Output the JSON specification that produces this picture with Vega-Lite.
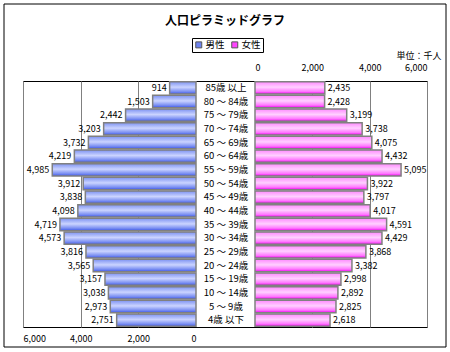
{
  "$schema": "https://vega.github.io/schema/vega-lite/v6.json",
  "autosize": {"type": "none"},
  "padding": {"left": 23, "top": 81, "right": 23, "bottom": 25},
  "width": 404,
  "height": 246,
  "background": "white",
  "title": {"text": "人口ピラミッドグラフ", "anchor": "middle", "font": "Noto Sans CJK JP", "fontSize": 12, "fontWeight": "bold", "color": "black", "offset": -24},
  "config": {"view": {"stroke": "black", "strokeWidth": 1}},
  "data": {"values": [
    {"age": "85歳 以上", "sex": "男性", "value": 914},
    {"age": "80 ～ 84歳", "sex": "男性", "value": 1503},
    {"age": "75 ～ 79歳", "sex": "男性", "value": 2442},
    {"age": "70 ～ 74歳", "sex": "男性", "value": 3203},
    {"age": "65 ～ 69歳", "sex": "男性", "value": 3732},
    {"age": "60 ～ 64歳", "sex": "男性", "value": 4219},
    {"age": "55 ～ 59歳", "sex": "男性", "value": 4985},
    {"age": "50 ～ 54歳", "sex": "男性", "value": 3912},
    {"age": "45 ～ 49歳", "sex": "男性", "value": 3838},
    {"age": "40 ～ 44歳", "sex": "男性", "value": 4098},
    {"age": "35 ～ 39歳", "sex": "男性", "value": 4719},
    {"age": "30 ～ 34歳", "sex": "男性", "value": 4573},
    {"age": "25 ～ 29歳", "sex": "男性", "value": 3816},
    {"age": "20 ～ 24歳", "sex": "男性", "value": 3565},
    {"age": "15 ～ 19歳", "sex": "男性", "value": 3157},
    {"age": "10 ～ 14歳", "sex": "男性", "value": 3038},
    {"age": "5 ～ 9歳", "sex": "男性", "value": 2973},
    {"age": "4歳 以下", "sex": "男性", "value": 2751},
    {"age": "85歳 以上", "sex": "女性", "value": 2435},
    {"age": "80 ～ 84歳", "sex": "女性", "value": 2428},
    {"age": "75 ～ 79歳", "sex": "女性", "value": 3199},
    {"age": "70 ～ 74歳", "sex": "女性", "value": 3738},
    {"age": "65 ～ 69歳", "sex": "女性", "value": 4075},
    {"age": "60 ～ 64歳", "sex": "女性", "value": 4432},
    {"age": "55 ～ 59歳", "sex": "女性", "value": 5095},
    {"age": "50 ～ 54歳", "sex": "女性", "value": 3922},
    {"age": "45 ～ 49歳", "sex": "女性", "value": 3797},
    {"age": "40 ～ 44歳", "sex": "女性", "value": 4017},
    {"age": "35 ～ 39歳", "sex": "女性", "value": 4591},
    {"age": "30 ～ 34歳", "sex": "女性", "value": 4429},
    {"age": "25 ～ 29歳", "sex": "女性", "value": 3868},
    {"age": "20 ～ 24歳", "sex": "女性", "value": 3382},
    {"age": "15 ～ 19歳", "sex": "女性", "value": 2998},
    {"age": "10 ～ 14歳", "sex": "女性", "value": 2892},
    {"age": "5 ～ 9歳", "sex": "女性", "value": 2825},
    {"age": "4歳 以下", "sex": "女性", "value": 2618}
  ]},
  "layer": [
    {
      "data": {"values": [{}]},
      "mark": {"type": "rect", "x": -19, "y": -77, "x2": 423, "y2": 266, "fill": "transparent", "stroke": "black", "strokeWidth": 1},
      "encoding": {}
    },
    {
      "transform": [{"filter": "datum.sex === '男性'"}],
      "encoding": {
        "y": {"field": "age", "type": "nominal",
          "scale": {"domain": ["85歳 以上","80 ～ 84歳","75 ～ 79歳","70 ～ 74歳","65 ～ 69歳","60 ～ 64歳","55 ～ 59歳","50 ～ 54歳","45 ～ 49歳","40 ～ 44歳","35 ～ 39歳","30 ～ 34歳","25 ～ 29歳","20 ～ 24歳","15 ～ 19歳","10 ～ 14歳","5 ～ 9歳","4歳 以下"], "paddingInner": 0.1, "paddingOuter": 0.05},
          "axis": {"title": null, "orient": "left", "offset": -202.5, "domain": false, "ticks": false, "tickSize": 0, "labelAlign": "center", "labelPadding": 0, "labelFont": "Noto Sans CJK JP", "labelFontSize": 9.5, "labelColor": "black", "grid": false}},
        "x": {"field": "value", "type": "quantitative",
          "scale": {"domain": [0, 6000], "range": [173, 0], "nice": false},
          "axis": {"orient": "bottom", "values": [0, 2000, 4000, 6000], "format": ",d", "title": null, "domain": false, "ticks": false, "labelPadding": 7, "labelFont": "Noto Sans CJK JP", "labelFontSize": 9, "labelColor": "black", "grid": true, "gridColor": "#808080", "gridOpacity": {"condition": {"test": "datum.value === 0", "value": 0}, "value": 1}}}
      },
      "layer": [
        {
          "mark": {"type": "bar", "opacity": 0},
          "encoding": {
            "color": {"field": "sex", "type": "nominal",
              "scale": {"domain": ["男性", "女性"], "range": ["#6f84f0", "#ff44ff"]},
              "legend": {"title": null, "orient": "none", "legendX": 169, "legendY": -43, "direction": "horizontal", "strokeColor": "black", "padding": 2, "symbolType": "square", "symbolSize": 36, "symbolOpacity": 1, "symbolStrokeColor": "#555555", "symbolStrokeWidth": 1, "labelFont": "Noto Sans CJK JP", "labelFontSize": 9.5, "labelColor": "black", "columnPadding": 4, "labelOffset": 2}}
          }
        },
        {
          "mark": {"type": "bar", "stroke": "#808080", "strokeWidth": 1.5,
            "color": {"gradient": "linear", "x1": 0, "y1": 0, "x2": 0, "y2": 1, "stops": [{"offset": 0, "color": "#7d92f2"}, {"offset": 0.45, "color": "#cbd4ff"}, {"offset": 0.8, "color": "#7b8ff2"}, {"offset": 1, "color": "#3f58e6"}]}}
        },
        {
          "mark": {"type": "text", "align": "right", "baseline": "middle", "dx": -3, "font": "Noto Sans CJK JP", "fontSize": 9, "color": "black"},
          "encoding": {"text": {"field": "value", "type": "quantitative", "format": ",d"}}
        }
      ]
    },
    {
      "transform": [{"filter": "datum.sex === '女性'"}],
      "encoding": {
        "y": {"field": "age", "type": "nominal"},
        "x": {"field": "value", "type": "quantitative",
          "scale": {"domain": [0, 6000], "range": [232, 404], "nice": false},
          "axis": {"orient": "top", "values": [0, 2000, 4000, 6000], "format": ",d", "title": "単位：千人", "titleX": 418, "titleY": -26, "titleAlign": "right", "titleBaseline": "middle", "titleFont": "Noto Sans CJK JP", "titleFontSize": 9, "titleFontWeight": "normal", "titleColor": "black", "domain": false, "ticks": false, "labelPadding": 9, "labelFont": "Noto Sans CJK JP", "labelFontSize": 9, "labelColor": "black", "grid": true, "gridColor": "#808080", "gridOpacity": {"condition": {"test": "datum.value === 0", "value": 0}, "value": 1}}}
      },
      "layer": [
        {
          "mark": {"type": "bar", "stroke": "#808080", "strokeWidth": 1.5,
            "color": {"gradient": "linear", "x1": 0, "y1": 0, "x2": 0, "y2": 1, "stops": [{"offset": 0, "color": "#ff88ff"}, {"offset": 0.45, "color": "#ffd0ff"}, {"offset": 0.8, "color": "#ff77ff"}, {"offset": 1, "color": "#ee00ee"}]}}
        },
        {
          "mark": {"type": "text", "align": "left", "baseline": "middle", "dx": 3, "font": "Noto Sans CJK JP", "fontSize": 9, "color": "black"},
          "encoding": {"text": {"field": "value", "type": "quantitative", "format": ",d"}}
        }
      ]
    }
  ],
  "resolve": {"scale": {"x": "independent"}, "axis": {"x": "independent"}}
}
